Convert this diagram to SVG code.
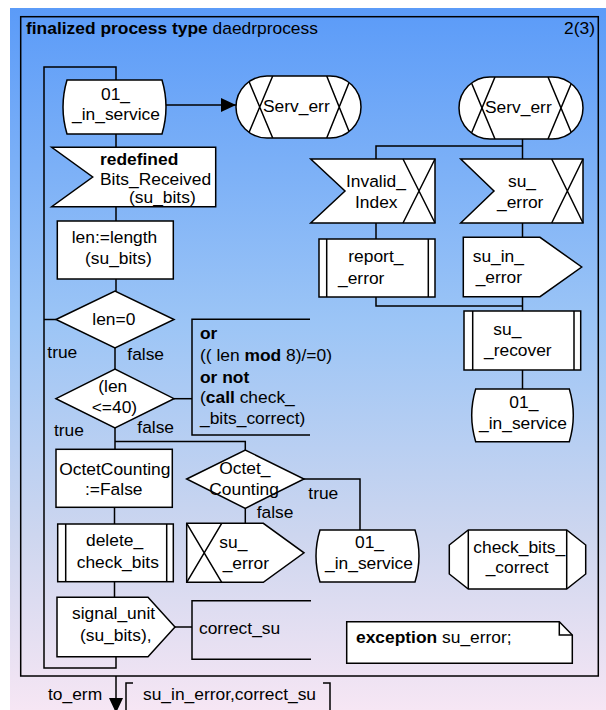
<svg xmlns="http://www.w3.org/2000/svg" width="606" height="710" viewBox="0 0 606 710">
<defs>
<linearGradient id="bg" x1="0" y1="0" x2="0" y2="1">
<stop offset="0" stop-color="#5b9bf8"/>
<stop offset="0.45" stop-color="#9cc5f6"/>
<stop offset="0.75" stop-color="#cdd6ef"/>
<stop offset="1" stop-color="#f6e6f4"/>
</linearGradient>
<clipPath id="c1"><path d="M267,76 H330 A31,31 0 0 1 330,138 H267 A31,31 0 0 1 267,76 Z"/></clipPath>
<clipPath id="c2"><path d="M490,77 H552 A31,31 0 0 1 552,139 H490 A31,31 0 0 1 490,77 Z"/></clipPath>
<marker id="ah" markerWidth="16" markerHeight="14" refX="15" refY="7" orient="auto" markerUnits="userSpaceOnUse"><path d="M0,0 L15,7 L0,14 Z" fill="#000"/></marker>
<style>
.s{fill:#fff;stroke:#000;stroke-width:1.5}
.l{fill:none;stroke:#000;stroke-width:1.5}
text{font-family:"Liberation Sans",Arial,sans-serif;font-size:17.4px;fill:#000}
.b{font-weight:bold}
</style>
</defs>
<rect x="10" y="8" width="596" height="702" fill="url(#bg)"/>
<g id="frame">
<rect x="20.7" y="16.7" width="577.6" height="659.3" fill="none" stroke="#000" stroke-width="1.5"/>
<text x="26" y="34"><tspan class="b">finalized process type</tspan> daedrprocess</text>
<text x="595" y="34" text-anchor="end">2(3)</text>
</g>
<g id="connectors">
<path class="l" d="M116,80 V67 H44 V668 H116 V657"/>
<path class="l" d="M56,319.5 H44"/>
<path class="l" d="M116,134 V147.3"/>
<path class="l" d="M116,206.7 V221"/>
<path class="l" d="M116,279 V291"/>
<path class="l" d="M115,348 V369"/>
<path class="l" d="M115,428 V449.3 M115,441.5 H245.3 V450"/>
<path class="l" d="M174,398.7 H192"/>
<path class="l" d="M114.5,507.3 V524 M114.5,581.7 V597"/>
<path class="l" d="M175,627 H192"/>
<path class="l" d="M304,479 H360 V530"/>
<path class="l" d="M245.3,508.3 V523.3"/>
<path class="l" d="M166,105 H236" marker-end="url(#ah)"/>
<path class="l" d="M522.5,139 V159 M522.5,146 H376 V159"/>
<path class="l" d="M376,223 V239"/>
<path class="l" d="M522.5,223 V237.3"/>
<path class="l" d="M376,297 V306 H522.5 M522.5,296.7 V311"/>
<path class="l" d="M522.5,370 V389"/>
<path class="l" d="M116,676 V700"/>
<path d="M109,698 L123,698 L116,713 Z" fill="#000"/>
</g>
<g id="state1">
<path class="s" d="M67,80 H162 Q170,107 162,134 H67 Q59,107 67,80 Z"/>
<text x="101" y="100">01_</text>
<text x="72" y="120">_in_service</text>
</g>
<g id="serv_err1">
<path class="s" d="M267,76 H330 A31,31 0 0 1 330,138 H267 A31,31 0 0 1 267,76 Z"/>
<path class="l" clip-path="url(#c1)" d="M246.7,76 L272.7,138 M272.7,76 L246.7,138 M326.7,76 L351.7,138 M351.7,76 L326.7,138"/>
<text x="263" y="112">Serv_err</text>
</g>
<g id="serv_err2">
<path class="s" d="M490,77 H552 A31,31 0 0 1 552,139 H490 A31,31 0 0 1 490,77 Z"/>
<path class="l" clip-path="url(#c2)" d="M469,77 L495,139 M495,77 L469,139 M548,77 L574,139 M574,77 L548,139"/>
<text x="485" y="113">Serv_err</text>
</g>
<g id="bits_received">
<path class="s" d="M51.7,147.3 H215.7 V206.7 H51.7 L92.7,177 Z"/>
<text x="100" y="165" class="b">redefined</text>
<text x="100" y="185">Bits_Received</text>
<text x="129" y="203">(su_bits)</text>
</g>
<g id="task_len">
<rect class="s" x="57.3" y="221" width="116" height="58"/>
<text x="71.7" y="243">len:=length</text>
<text x="85" y="264">(su_bits)</text>
</g>
<g id="dec_len0">
<path class="s" d="M56,319.5 L115,291 L174,319.5 L115,348 Z"/>
<text x="92.3" y="325">len=0</text>
<text x="47.3" y="357.5">true</text>
<text x="127.3" y="360">false</text>
</g>
<g id="dec_len40">
<path class="s" d="M56,398.7 L115,369 L174,398.7 L115,428 Z"/>
<text x="98.3" y="392">(len</text>
<text x="91.7" y="413">&lt;=40)</text>
<text x="54" y="436">true</text>
<text x="137.3" y="433">false</text>
</g>
<g id="comment1">
<path class="l" d="M310,319.3 H192 V435 H310"/>
<text x="200" y="339" class="b">or</text>
<text x="200" y="361">(( len <tspan class="b">mod</tspan> 8)/=0)</text>
<text x="200" y="382.5" class="b">or not</text>
<text x="200" y="403">(<tspan class="b">call</tspan> check_</text>
<text x="200" y="424">_bits_correct)</text>
</g>
<g id="task_octet">
<rect class="s" x="56" y="449.3" width="116.3" height="58"/>
<text x="59.3" y="475.3">OctetCounting</text>
<text x="85" y="495.3">:=False</text>
</g>
<g id="dec_octet">
<path class="s" d="M186.7,479 L245.3,450 L304,479 L245.3,508.3 Z"/>
<text x="219.3" y="474.3">Octet_</text>
<text x="209.3" y="495">Counting</text>
<text x="256.7" y="517.5">false</text>
<text x="308.3" y="499">true</text>
</g>
<g id="delete_check_bits">
<rect class="s" x="57.7" y="524" width="115.6" height="57.7"/>
<path class="l" d="M65.7,524 V581.7 M166.7,524 V581.7"/>
<text x="86" y="546">delete_</text>
<text x="76.7" y="567.5">check_bits</text>
</g>
<g id="su_error_out">
<path class="s" d="M186.7,523.3 H263.3 L304,552.8 L263.3,582.3 H186.7 Z"/>
<path class="l" d="M186.7,523.3 L221.7,582.3 M221.7,523.3 L186.7,582.3"/>
<text x="219.3" y="547.5">su_</text>
<text x="222.7" y="569">_error</text>
</g>
<g id="state3">
<path class="s" d="M320,530 H415 Q423,556 415,582 H320 Q312,556 320,530 Z"/>
<text x="355" y="548">01_</text>
<text x="325" y="569">_in_service</text>
</g>
<g id="check_bits_correct">
<path class="s" d="M468.3,530 H566.7 L585.7,545 V574 L566.7,589 H468.3 L449.3,574 V545 Z"/>
<path class="l" d="M468.3,530 V589 M566.7,530 V589"/>
<text x="473.3" y="552.5">check_bits_</text>
<text x="485.7" y="573">_correct</text>
</g>
<g id="signal_unit">
<path class="s" d="M57,597.3 H148 L175,627 L148,656.7 H57 Z"/>
<text x="72" y="619">signal_unit</text>
<text x="80" y="641">(su_bits),</text>
</g>
<g id="comment2">
<path class="l" d="M311,600.7 H192 V659.3 H311"/>
<text x="199" y="634">correct_su</text>
</g>
<g id="exception_note">
<path class="s" d="M346.7,621.7 H559.3 L572.3,635 V663.3 H346.7 Z"/>
<path class="l" d="M559.3,621.7 V635 H572.3"/>
<text x="356" y="643"><tspan class="b">exception</tspan> su_error;</text>
</g>
<g id="invalid_index">
<path class="s" d="M310.7,159 H435 V223 H310.7 L345,191 Z"/>
<path class="l" d="M403,159 L435,223 M435,159 L403,223"/>
<text x="346" y="187">Invalid_</text>
<text x="355" y="207.5">Index</text>
</g>
<g id="su_error_in">
<path class="s" d="M460.7,159 H583 V223 H460.7 L494,191 Z"/>
<path class="l" d="M551.7,159 L583,223 M583,159 L551.7,223"/>
<text x="508" y="187">su_</text>
<text x="497" y="207.5">_error</text>
</g>
<g id="report_error">
<rect class="s" x="319" y="239" width="116" height="58"/>
<path class="l" d="M326.7,239 V297 M428.3,239 V297"/>
<text x="348.3" y="262">report_</text>
<text x="338" y="283.5">_error</text>
</g>
<g id="su_in_error">
<path class="s" d="M463.3,237.3 H540 L581.7,267 L540,296.7 H463.3 Z"/>
<text x="472.7" y="262">su_in_</text>
<text x="475.7" y="283">_error</text>
</g>
<g id="su_recover">
<rect class="s" x="464" y="311" width="116.7" height="59"/>
<path class="l" d="M472.7,311 V370 M574,311 V370"/>
<text x="493.3" y="335">su_</text>
<text x="484" y="356">_recover</text>
</g>
<g id="state2">
<path class="s" d="M475.7,389 H569.3 Q577.3,415.3 569.3,441.7 H475.7 Q467.7,415.3 475.7,389 Z"/>
<text x="509.3" y="407.5">01_</text>
<text x="479" y="428.5">_in_service</text>
</g>
<g id="to_erm">
<text x="48" y="700">to_erm</text>
<path class="l" d="M133,683 H126 V712 M323,683 H330 V712"/>
<text x="143" y="700">su_in_error,correct_su</text>
</g>
</svg>
